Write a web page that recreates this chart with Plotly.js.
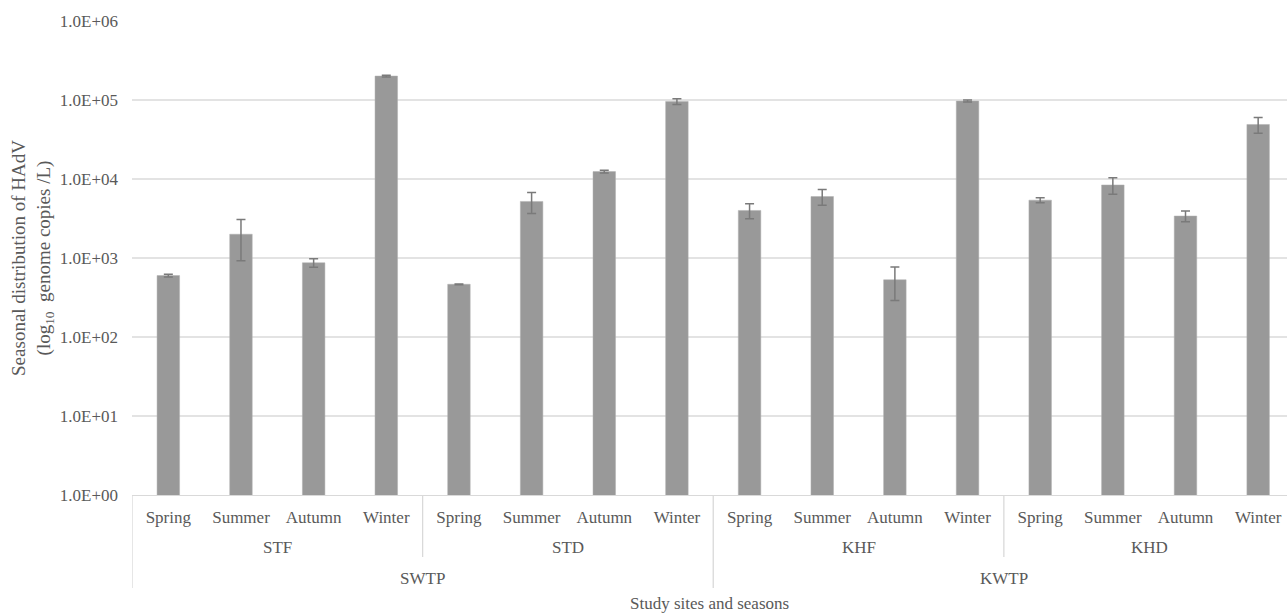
<!DOCTYPE html>
<html>
<head>
<meta charset="utf-8">
<script src="https://cdn.plot.ly/plotly-3.0.1.min.js"></script>
<style>html,body{margin:0;padding:0;background:#fff;}#chart{width:1287px;height:613px;}</style>
</head>
<body>
<div id="chart"></div>
<script>
// Data
const seasons = ["Spring", "Summer", "Autumn", "Winter"];
const sites = ["STF", "STD", "KHF", "KHD"];
const plants = ["SWTP", "KWTP"];
const sitesPerPlant = 2;
const values = [600, 2000, 870, 201000,
                465, 5200, 12400, 96000,
                4000, 6000, 530, 97000,
                5400, 8400, 3400, 49000];
const errors = [25, 1080, 105, 5000,
                5, 1550, 500, 8000,
                850, 1350, 240, 3000,
                400, 2000, 530, 11000];
const yTickVals = [1, 10, 100, 1000, 10000, 100000, 1000000];
const yTickText = ["1.0E+00", "1.0E+01", "1.0E+02", "1.0E+03", "1.0E+04", "1.0E+05", "1.0E+06"];
const xTitle = "Study sites and seasons";
const yTitle = "Seasonal distribution of HAdV<br>(log<sub>10</sub>  genome copies /L)";

const xIdx = values.map((v, i) => i);
const seasonLabels = xIdx.map(i => seasons[i % seasons.length]);

const txtColor = "#595959";
const fontFam = "Liberation Serif, Times New Roman, serif";
const gridColor = "#e3e3e3";
const divColor = "#d9d9d9";

const trace = {
  type: "bar",
  x: xIdx,
  y: values,
  width: 0.31,
  marker: {color: "#999999", line: {color: "#b0b0b0", width: 0.5}},
  error_y: {type: "data", array: errors, visible: true, color: "#7a7a7a", thickness: 1.5, width: 4.5},
  hoverinfo: "y"
};

const nS = seasons.length;
const annotations = [];
const shapes = [];
sites.forEach((s, k) => {
  annotations.push({x: k * nS + (nS - 1) / 2, y: 0, xref: "x", yref: "paper", text: s,
    showarrow: false, yanchor: "middle", yshift: -52,
    font: {family: fontFam, size: 17, color: txtColor}});
});
plants.forEach((p, k) => {
  const span = nS * sitesPerPlant;
  annotations.push({x: k * span + (span - 1) / 2, y: 0, xref: "x", yref: "paper", text: p,
    showarrow: false, yanchor: "middle", yshift: -83,
    font: {family: fontFam, size: 17, color: txtColor}});
});
annotations.push({x: 0.5, y: 0, xref: "paper", yref: "paper", text: xTitle,
  showarrow: false, yanchor: "middle", yshift: -108,
  font: {family: fontFam, size: 17, color: txtColor}});

const plotH = 474;
for (let k = 0; k < sites.length; k++) {
  const xb = k * nS - 0.5;
  const isPlant = (k % sitesPerPlant === 0);
  shapes.push({type: "line", xref: "x", yref: "paper", x0: xb, x1: xb, y0: 0,
    y1: -(isPlant ? 93 : 62) / plotH, line: {color: divColor, width: 1.3}});
}

const layout = {
  width: 1287, height: 613,
  margin: {l: 132, r: 0, t: 21, b: 118},
  paper_bgcolor: "#ffffff", plot_bgcolor: "#ffffff",
  showlegend: false,
  font: {family: fontFam, size: 17, color: txtColor},
  xaxis: {
    type: "linear", range: [-0.5, 15.397],
    tickvals: xIdx, ticktext: seasonLabels,
    showgrid: false, zeroline: false,
    showline: true, linecolor: divColor, linewidth: 1.3,
    ticks: "", ticklabelstandoff: 6,
    tickfont: {family: fontFam, size: 17, color: txtColor},
    automargin: false
  },
  yaxis: {
    type: "log", range: [0, 6],
    tickvals: yTickVals, ticktext: yTickText,
    showgrid: true, gridcolor: gridColor, gridwidth: 1.3,
    zeroline: false, showline: false, ticks: "",
    ticklabelstandoff: 13,
    tickfont: {family: fontFam, size: 17, color: txtColor},
    title: {text: yTitle, font: {family: fontFam, size: 19, color: txtColor}, standoff: 4},
    automargin: false
  },
  annotations: annotations,
  shapes: shapes
};

Plotly.newPlot("chart", [trace], layout, {staticPlot: true, displayModeBar: false});
</script>
</body>
</html>
